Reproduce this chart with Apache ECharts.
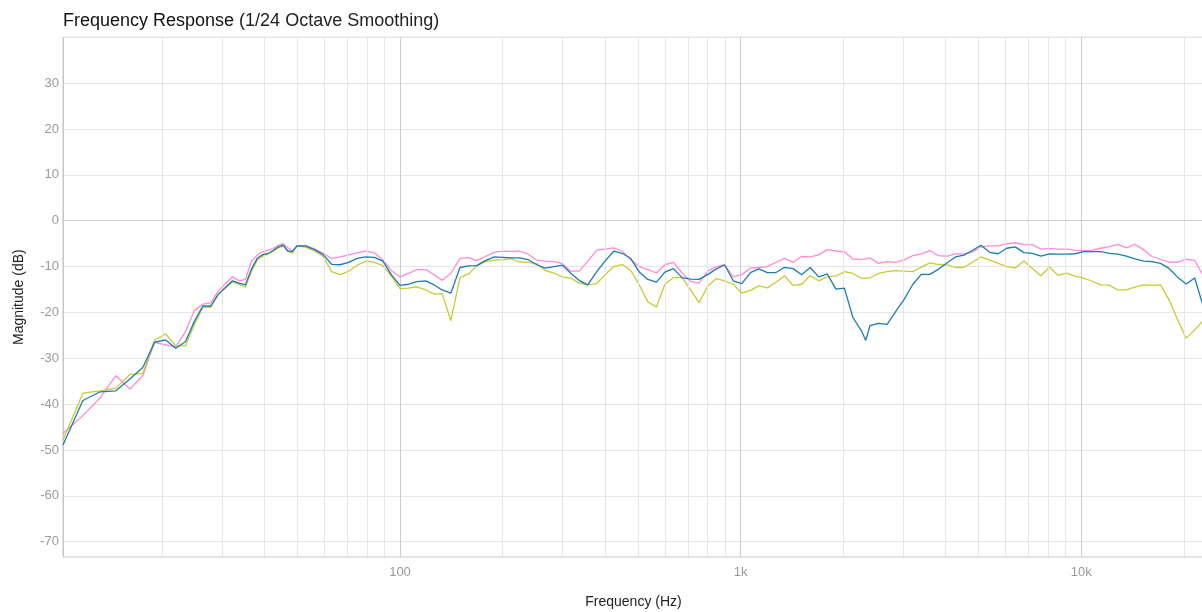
<!DOCTYPE html>
<html>
<head>
<meta charset="utf-8">
<title>Frequency Response</title>
<script src="https://cdn.jsdelivr.net/npm/echarts@6/dist/echarts.min.js"></script>
<style>
  html, body { margin: 0; padding: 0; background: #fff; }
  #echarts { width: 1202px; height: 612px; }
</style>
</head>
<body>
<div id="echarts"></div>
<script>
// frequencies (Hz): FFT bins below 50 Hz, then about 1/12 octave
var freqs = [
  10.25, 11.72, 13.18, 14.65, 16.11, 17.58, 19.04, 20.51, 21.97, 23.44,
  24.9, 26.37, 27.83, 29.3, 30.76, 32.23, 33.69, 35.16, 36.62, 38.09,
  39.55, 41.02, 42.48, 43.95, 45.41, 46.88, 48.34, 49.8, 53, 56.1,
  59.5, 63, 66.7, 70.7, 74.9, 79.4, 84.1, 89.1, 94.4, 100,
  106, 112, 119, 126, 133, 141, 150, 159, 168, 178,
  189, 200, 212, 224, 238, 252, 267, 283, 300, 317,
  336, 356, 378, 400, 424, 449, 476, 504, 534, 566,
  599, 635, 673, 713, 755, 800, 848, 898, 951, 1008,
  1068, 1131, 1198, 1270, 1345, 1425, 1510, 1600, 1695, 1796,
  1903, 2016, 2136, 2263, 2329, 2397, 2540, 2691, 2851, 3020,
  3200, 3390, 3592, 3805, 4032, 4271, 4525, 4794, 5079, 5381,
  5701, 6040, 6400, 6780, 7183, 7610, 8063, 8542, 9050, 9588,
  10158, 10762, 11402, 12080, 12800, 13561, 14367, 15221, 16126, 17085,
  18101, 19177, 20317, 21525, 22805
];

// magnitude (dB) per measurement
var magBlue = [
  -48.9, -39.2, -37.3, -37.1, -34.5, -32.0, -26.5, -26.0, -27.8, -26.4,
  -22.0, -18.6, -18.6, -16.0, -14.5, -13.1, -13.6, -14.0, -10.6, -8.2,
  -7.4, -7.1, -6.45, -5.7, -5.3, -6.6, -6.7, -5.5, -5.55, -6.3,
  -7.4, -9.5, -9.6, -9.1, -8.2, -7.9, -8.0, -8.8, -11.8, -14.1,
  -13.85, -13.3, -13.1, -14.0, -15.1, -15.8, -10.2, -9.85, -9.8, -8.7,
  -7.9, -8.0, -8.1, -8.1, -8.5, -9.6, -10.35, -10.0, -9.7, -11.45,
  -13.05, -14.0, -11.1, -8.8, -6.65, -7.1, -8.25, -11.2, -12.8, -13.4,
  -11.2, -10.45, -12.4, -12.75, -12.8, -11.75, -10.5, -9.65, -13.1, -13.7,
  -11.3, -10.5, -11.3, -11.3, -10.15, -10.45, -11.8, -10.2, -12.25, -11.6,
  -14.9, -14.7, -21.1, -24.0, -26.1, -22.9, -22.4, -22.6, -19.8, -17.15,
  -13.9, -11.7, -11.7, -10.6, -9.2, -7.9, -7.5, -6.45, -5.35, -6.9,
  -7.2, -6.0, -5.7, -6.95, -7.1, -7.7, -7.25, -7.3, -7.3, -7.2,
  -6.75, -6.75, -6.75, -7.1, -7.3, -7.7, -8.3, -8.8, -8.9, -9.3,
  -10.4, -12.3, -13.8, -12.5, -18.7
];
var magPink = [
  -46.4, -42.5, -38.6, -33.8, -36.7, -33.8, -26.5, -27.1, -27.5, -24.2,
  -19.6, -18.2, -17.9, -15.3, -13.7, -12.2, -13.1, -12.8, -8.9, -7.5,
  -6.7, -6.4, -6.0, -5.35, -5.0, -5.9, -6.6, -5.6, -5.4, -6.15,
  -7.1, -8.25, -7.9, -7.45, -7.0, -6.65, -7.0, -8.55, -10.9, -12.25,
  -11.5, -10.65, -10.65, -11.8, -13.0, -11.5, -8.2, -8.05, -8.7, -7.8,
  -6.9, -6.65, -6.7, -6.6, -7.3, -8.6, -8.8, -8.9, -9.35, -11.0,
  -11.0, -8.8, -6.4, -6.2, -5.9, -6.6, -8.5, -10.0, -10.65, -11.4,
  -9.6, -9.1, -11.4, -13.2, -13.6, -11.0, -10.0, -9.6, -12.25, -11.75,
  -10.35, -10.2, -10.0, -9.05, -8.2, -9.1, -7.8, -7.9, -7.45, -6.3,
  -6.6, -6.8, -8.35, -8.5, -8.3, -8.1, -9.3, -8.9, -9.1, -8.55,
  -7.6, -7.25, -6.5, -7.6, -7.75, -7.2, -7.3, -6.8, -5.7, -5.5,
  -5.5, -5.05, -4.8, -5.2, -5.2, -6.2, -6.1, -6.2, -6.2, -6.4,
  -6.5, -6.4, -6.0, -5.65, -5.15, -5.9, -5.15, -6.3, -7.8, -8.4,
  -9.05, -9.05, -8.4, -8.7, -12.0
];
var magYellow = [
  -47.8, -37.6, -37.1, -36.5, -33.5, -33.3, -26.0, -24.7, -27.3, -27.3,
  -22.7, -18.9, -18.9, -16.0, -14.7, -13.3, -13.9, -14.5, -11.1, -8.6,
  -7.7, -7.3, -6.7, -5.9, -5.5, -6.7, -7.1, -5.5, -5.8, -6.6,
  -7.8, -11.1, -11.75, -11.0, -9.7, -8.8, -9.1, -9.8, -12.1, -14.8,
  -14.7, -14.4, -15.1, -16.0, -15.9, -21.8, -12.4, -11.6, -9.85, -8.9,
  -8.6, -8.5, -8.25, -9.0, -9.1, -9.35, -10.9, -11.4, -12.3, -12.5,
  -13.6, -14.0, -13.7, -11.8, -10.0, -9.5, -10.9, -14.0, -17.7, -18.8,
  -13.85, -12.4, -12.4, -15.1, -17.85, -14.3, -12.6, -13.1, -13.85, -15.8,
  -15.2, -14.2, -14.65, -13.4, -12.0, -14.1, -13.85, -12.0, -13.1, -12.2,
  -12.1, -11.1, -11.5, -12.55, -12.5, -12.5, -11.5, -11.1, -10.9, -11.0,
  -11.1, -10.1, -9.2, -9.55, -9.6, -10.2, -10.15, -9.0, -7.9, -8.6,
  -9.3, -10.0, -10.3, -8.8, -10.4, -12.0, -10.1, -11.9, -11.45, -12.1,
  -12.5, -13.2, -14.0, -14.05, -15.1, -15.1, -14.5, -14.0, -14.1, -14.0,
  -17.25, -21.6, -25.6, -23.8, -21.7
];

// minor vertical grid lines (Hz)
var minorFreqs = [20, 30, 40, 50, 60, 70, 80, 90,
  200, 300, 400, 500, 600, 700, 800, 900,
  2000, 3000, 4000, 5000, 6000, 7000, 8000, 9000, 20000];

var xMin = 10.25, xMax = 22920;
var yMin = -73.33, yMax = 40;

function pairs(vals) {
  return freqs.map(function (f, i) { return [f, vals[i]]; });
}

var myChart = echarts.init(document.getElementById('echarts'));

var font = '"Liberation Sans", Arial, sans-serif';
var labelColor = '#9a9a9a';
var option = {
  animation: false,
  backgroundColor: '#fff',
  textStyle: { fontFamily: font },
  title: {
    left: 58,
    top: 7,
    text: '{a|Frequency Response} {b|(1/24 Octave Smoothing)}',
    textStyle: {
      fontWeight: 'normal',
      rich: {
        a: { fontSize: 18, color: '#111', fontWeight: 'normal', fontFamily: font },
        b: { fontSize: 18, color: '#222', fontWeight: 'normal', fontFamily: font }
      }
    }
  },
  grid: {
    left: 63, right: -2, top: 37.3, bottom: 55,
    outerBoundsMode: 'none',
    containLabel: false,
    show: true, borderColor: '#c6c6c6', borderWidth: 1
  },
  xAxis: {
    type: 'log',
    logBase: 10,
    min: xMin,
    max: xMax,
    name: 'Frequency (Hz)',
    nameLocation: 'middle',
    nameGap: 38,
    nameTextStyle: { fontSize: 14, color: '#222' },
    axisLine: { show: true, lineStyle: { color: '#c6c6c6' } },
    axisTick: { show: false },
    axisLabel: {
      color: labelColor, fontSize: 13, margin: 9,
      formatter: function (v) {
        var l = Math.log10(v);
        if (Math.abs(l - Math.round(l)) > 1e-6) return '';
        return v >= 1000 ? (v / 1000) + 'k' : String(Math.round(v));
      }
    },
    splitLine: { show: true, lineStyle: { color: '#cccccc', width: 1 } }
  },
  yAxis: {
    type: 'value',
    min: yMin,
    max: yMax,
    splitNumber: 11,
    minInterval: 10,
    maxInterval: 10,
    name: 'Magnitude (dB)',
    nameLocation: 'middle',
    nameGap: 37,
    nameTextStyle: { fontSize: 14, color: '#222' },
    axisLine: { show: true, lineStyle: { color: '#c6c6c6' } },
    axisTick: { show: false },
    axisLabel: {
      color: labelColor, fontSize: 13, margin: 4,
      formatter: function (v) {
        if (Math.abs(v % 10) > 1e-6 || v < -70 || v > 30) return '';
        return String(v);
      }
    },
    splitLine: { show: true, lineStyle: { color: '#e6e6e6', width: 1 } }
  },
  series: [
    {
      name: 'grid',
      type: 'line',
      data: [],
      z: 1,
      silent: true,
      markLine: {
        silent: true,
        symbol: 'none',
        label: { show: false },
        animation: false,
        lineStyle: { color: '#e6e6e6', width: 1, type: 'solid' },
        data: minorFreqs.map(function (f) { return { xAxis: f }; }).concat([
          { yAxis: 0, lineStyle: { color: '#cfcfcf', width: 1, type: 'solid' } }
        ])
      }
    },
    {
      name: 'Pink',
      type: 'line',
      z: 3,
      data: pairs(magPink),
      showSymbol: false,
      color: '#ff8bd9',
      lineStyle: { width: 1.3 }
    },
    {
      name: 'Yellow',
      type: 'line',
      z: 4,
      data: pairs(magYellow),
      showSymbol: false,
      color: '#caca33',
      lineStyle: { width: 1.3 }
    },
    {
      name: 'Blue',
      type: 'line',
      z: 5,
      data: pairs(magBlue),
      showSymbol: false,
      color: '#1a7db2',
      lineStyle: { width: 1.3 }
    }
  ]
};

myChart.setOption(option);
</script>
</body>
</html>
